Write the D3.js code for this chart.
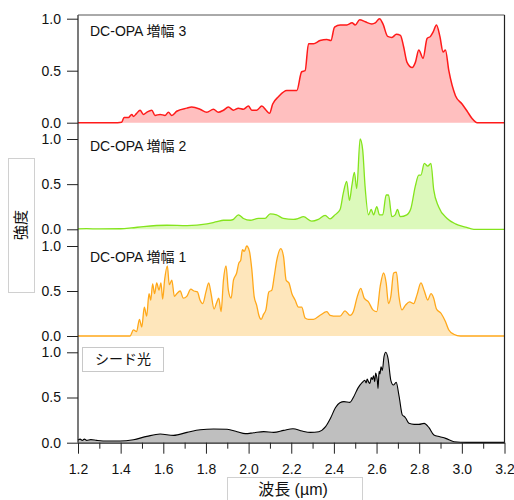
<!DOCTYPE html>
<html>
<head>
<meta charset="utf-8">
<script src="https://cdn.jsdelivr.net/npm/d3@7"></script>
<style>
  body { margin: 0; background: #fff; }
  svg text { font-family: "Liberation Sans", Arial, "Noto Sans CJK JP", sans-serif; fill: #111; }
</style>
</head>
<body>
<div id="chart"></div>
<script>
// spectra: [wavelength µm, normalised intensity]
const amp3 = [[1.2,0],[1.366,0],[1.405,0.005],[1.416,0.05],[1.436,0.05],[1.452,0.08],[1.46,0.06],[1.475,0.09],[1.491,0.12],[1.507,0.08],[1.522,0.1],[1.546,0.12],[1.561,0.07],[1.585,0.08],[1.608,0.07],[1.624,0.1],[1.64,0.07],[1.663,0.11],[1.71,0.14],[1.733,0.15],[1.772,0.13],[1.804,0.1],[1.835,0.13],[1.858,0.1],[1.882,0.12],[1.905,0.15],[1.929,0.12],[1.952,0.14],[1.976,0.13],[1.999,0.16],[2.015,0.12],[2.038,0.12],[2.062,0.16],[2.082,0.12],[2.098,0.09],[2.113,0.18],[2.14,0.25],[2.179,0.31],[2.226,0.31],[2.249,0.49],[2.265,0.5],[2.281,0.76],[2.304,0.76],[2.335,0.79],[2.367,0.8],[2.386,0.79],[2.403,0.92],[2.43,0.94],[2.461,0.94],[2.485,0.96],[2.5,0.94],[2.521,0.99],[2.547,0.97],[2.578,0.95],[2.594,0.96],[2.614,1.0],[2.63,0.95],[2.652,0.83],[2.672,0.82],[2.693,0.85],[2.712,0.84],[2.727,0.73],[2.743,0.58],[2.767,0.53],[2.782,0.58],[2.798,0.7],[2.818,0.62],[2.837,0.81],[2.853,0.83],[2.865,0.87],[2.881,0.94],[2.897,0.83],[2.912,0.68],[2.923,0.7],[2.939,0.5],[2.97,0.26],[3.001,0.18],[3.025,0.11],[3.048,0.04],[3.072,0],[3.2,0]];

const amp2 = [[1.2,0.005],[1.24,0.007],[1.3,0.004],[1.4,0.006],[1.45,0.015],[1.507,0.03],[1.617,0.045],[1.711,0.04],[1.805,0.06],[1.852,0.085],[1.882,0.1],[1.914,0.1],[1.929,0.11],[1.952,0.16],[1.976,0.12],[2.007,0.1],[2.046,0.12],[2.077,0.12],[2.101,0.17],[2.131,0.16],[2.163,0.12],[2.21,0.11],[2.233,0.12],[2.257,0.14],[2.296,0.09],[2.327,0.11],[2.359,0.155],[2.382,0.115],[2.405,0.16],[2.429,0.22],[2.444,0.4],[2.46,0.53],[2.473,0.32],[2.484,0.48],[2.496,0.63],[2.507,0.45],[2.523,1.0],[2.535,0.88],[2.546,0.48],[2.562,0.16],[2.575,0.22],[2.586,0.16],[2.601,0.25],[2.614,0.16],[2.629,0.16],[2.645,0.38],[2.656,0.38],[2.672,0.14],[2.687,0.16],[2.698,0.22],[2.711,0.14],[2.742,0.16],[2.761,0.23],[2.782,0.48],[2.798,0.6],[2.808,0.6],[2.824,0.73],[2.84,0.7],[2.855,0.73],[2.868,0.44],[2.891,0.25],[2.931,0.12],[2.97,0.06],[3.017,0.025],[3.056,0],[3.2,0]];

const amp1 = [[1.2,0],[1.444,0],[1.46,0.067],[1.475,0.05],[1.488,0.185],[1.499,0.1],[1.511,0.32],[1.522,0.22],[1.533,0.47],[1.541,0.4],[1.55,0.58],[1.559,0.47],[1.569,0.59],[1.58,0.51],[1.589,0.59],[1.597,0.41],[1.606,0.62],[1.619,0.78],[1.628,0.57],[1.64,0.62],[1.652,0.44],[1.663,0.47],[1.679,0.5],[1.694,0.42],[1.71,0.44],[1.729,0.52],[1.744,0.5],[1.76,0.49],[1.772,0.4],[1.785,0.36],[1.8,0.49],[1.813,0.59],[1.824,0.47],[1.838,0.3],[1.85,0.37],[1.86,0.42],[1.871,0.27],[1.882,0.62],[1.894,0.78],[1.905,0.51],[1.918,0.42],[1.929,0.62],[1.944,0.7],[1.954,0.81],[1.963,0.84],[1.971,0.96],[1.98,0.94],[1.991,1.0],[2.004,0.94],[2.015,0.74],[2.026,0.44],[2.038,0.34],[2.048,0.23],[2.059,0.185],[2.07,0.24],[2.081,0.29],[2.095,0.49],[2.109,0.51],[2.12,0.66],[2.132,0.84],[2.151,0.97],[2.164,0.88],[2.176,0.62],[2.189,0.59],[2.203,0.47],[2.218,0.4],[2.234,0.32],[2.249,0.32],[2.265,0.2],[2.281,0.185],[2.304,0.185],[2.335,0.23],[2.367,0.27],[2.382,0.23],[2.413,0.22],[2.429,0.22],[2.452,0.28],[2.476,0.23],[2.491,0.27],[2.51,0.44],[2.526,0.53],[2.542,0.42],[2.562,0.38],[2.583,0.29],[2.601,0.27],[2.617,0.55],[2.633,0.7],[2.645,0.59],[2.656,0.36],[2.667,0.44],[2.68,0.7],[2.693,0.71],[2.705,0.44],[2.719,0.29],[2.735,0.34],[2.755,0.38],[2.774,0.36],[2.79,0.46],[2.808,0.59],[2.824,0.5],[2.84,0.4],[2.855,0.47],[2.868,0.42],[2.881,0.3],[2.903,0.25],[2.923,0.16],[2.939,0.067],[2.962,0.02],[2.994,0],[3.2,0]];

const seed = [[1.2,0.03],[1.21,0.04],[1.22,0.025],[1.23,0.04],[1.241,0.026],[1.26,0.034],[1.288,0.026],[1.335,0.018],[1.397,0.018],[1.46,0.033],[1.523,0.07],[1.585,0.096],[1.648,0.081],[1.711,0.114],[1.773,0.144],[1.836,0.151],[1.899,0.148],[1.946,0.122],[1.985,0.1],[2.024,0.11],[2.071,0.122],[2.118,0.114],[2.164,0.136],[2.208,0.155],[2.251,0.129],[2.29,0.114],[2.329,0.122],[2.361,0.177],[2.384,0.27],[2.407,0.387],[2.428,0.443],[2.447,0.454],[2.475,0.446],[2.493,0.509],[2.512,0.601],[2.533,0.667],[2.545,0.69],[2.551,0.66],[2.556,0.704],[2.563,0.67],[2.569,0.656],[2.575,0.72],[2.58,0.7],[2.586,0.74],[2.591,0.675],[2.596,0.77],[2.6,0.74],[2.604,0.68],[2.607,0.601],[2.612,0.79],[2.616,0.76],[2.621,0.84],[2.627,0.8],[2.635,0.952],[2.643,1.0],[2.654,0.93],[2.667,0.69],[2.679,0.638],[2.692,0.667],[2.706,0.509],[2.721,0.306],[2.73,0.29],[2.737,0.27],[2.752,0.214],[2.776,0.203],[2.799,0.203],[2.823,0.214],[2.846,0.166],[2.869,0.085],[2.897,0.066],[2.924,0.048],[2.963,0.011],[3.025,0.004],[3.2,0.004]];

const panelNames = ['DC-OPA 増幅 3', 'DC-OPA 増幅 2', 'DC-OPA 増幅 1', 'シード光'];
const panelSeries = [amp3, amp2, amp1, seed];
const lineColors = ['#ff1a1a', '#84e41c', '#ffa81a', '#000000'];
const fillColors = ['#ffbfbf', '#dcf9bb', '#fee6bb', '#bfbfbf'];
const lineWidths = [1.5, 1.3, 1.3, 1.1];
const yTicks = [0, 0.5, 1.0];
const xTicks = [1.2, 1.4, 1.6, 1.8, 2.0, 2.2, 2.4, 2.6, 2.8, 3.0, 3.2];
const xMinorTicks = [1.3, 1.5, 1.7, 1.9, 2.1, 2.3, 2.5, 2.7, 2.9, 3.1];

// pixel layout (bottom / top of each stacked y axis, label baseline)
const layout = [
  {y0: 122.7, y1: 18.7, labelY: 35.7},
  {y0: 229.3, y1: 139, labelY: 151},
  {y0: 336, y1: 246, labelY: 261.5},
  {y0: 442.7, y1: 352.3, labelY: 363.5}
];

const W = 514, H = 500;
const plotL = 78, plotR = 504.5, plotT = 15, plotB = 442.7;

const svg = d3.select('#chart').append('svg')
  .attr('width', W).attr('height', H);

const x = d3.scaleLinear().domain([1.2, 3.2]).range([plotL, plotR]);

panelSeries.forEach(function(data, i) {
  const L = layout[i];
  const y = d3.scaleLinear().domain([0, 1]).range([L.y0, L.y1]);
  const g = svg.append('g').attr('class', 'panel');

  const area = d3.area()
    .x(d => x(d[0])).y0(y(0)).y1(d => y(d[1]))
    .curve(d3.curveMonotoneX);
  const line = d3.line()
    .x(d => x(d[0])).y(d => y(d[1]))
    .curve(d3.curveMonotoneX);

  g.append('path').datum(data)
    .attr('d', area)
    .attr('fill', fillColors[i]);
  g.append('path').datum(data)
    .attr('d', line)
    .attr('fill', 'none')
    .attr('stroke', lineColors[i])
    .attr('stroke-width', lineWidths[i])
    .attr('stroke-linejoin', 'round');

  // y axis ticks for this panel
  const ax = svg.append('g')
    .attr('transform', `translate(${plotL},0)`)
    .call(d3.axisLeft(y).tickValues(yTicks).tickFormat(d3.format('.1f')).tickSize(11).tickSizeOuter(0).tickPadding(6));
  ax.select('.domain').remove();
  ax.selectAll('line').attr('stroke', '#222');
  ax.selectAll('text').style('font-size', '14px').attr('fill', '#111');

  // panel label
  if (i < 3) {
    svg.append('text')
      .attr('x', 90).attr('y', L.labelY)
      .style('font-size', '14px')
      .text(panelNames[i]);
  } else {
    svg.append('rect')
      .attr('x', 82.5).attr('y', 347.5).attr('width', 81).attr('height', 24)
      .attr('fill', '#fff').attr('stroke', '#c8c8c8');
    svg.append('text')
      .attr('x', 123).attr('y', 364)
      .attr('text-anchor', 'middle')
      .style('font-size', '14px')
      .text(panelNames[i]);
  }
});

// frame: left axis line, top and right edges
svg.append('line').attr('x1', plotL).attr('x2', plotL).attr('y1', plotT).attr('y2', plotB)
  .attr('stroke', '#222').attr('stroke-width', 1.2);
svg.append('line').attr('x1', plotL).attr('x2', plotR).attr('y1', plotT).attr('y2', plotT)
  .attr('stroke', '#555').attr('stroke-width', 1);
svg.append('line').attr('x1', plotR).attr('x2', plotR).attr('y1', plotT).attr('y2', plotB)
  .attr('stroke', '#222').attr('stroke-width', 1.2);

// bottom axis
const xMinor = svg.append('g').attr('transform', `translate(0,${plotB})`)
  .call(d3.axisBottom(x).tickValues(xMinorTicks).tickFormat('').tickSize(6).tickSizeOuter(0));
xMinor.select('.domain').remove();
xMinor.selectAll('line').attr('stroke', '#222');

const xAx = svg.append('g').attr('transform', `translate(0,${plotB})`)
  .call(d3.axisBottom(x).tickValues(xTicks).tickFormat(d3.format('.1f')).tickSize(11).tickSizeOuter(0).tickPadding(10));
xAx.select('.domain').attr('stroke', '#222').attr('stroke-width', 1.2);
xAx.selectAll('line').attr('stroke', '#222');
xAx.selectAll('text').style('font-size', '14px').attr('fill', '#111');

// axis titles in boxes
svg.append('rect').attr('x', 8.5).attr('y', 158.5).attr('width', 26).attr('height', 134)
  .attr('fill', '#fff').attr('stroke', '#d0d0d0');
svg.append('text')
  .attr('transform', 'translate(26,225) rotate(-90)')
  .attr('text-anchor', 'middle')
  .style('font-size', '15px')
  .text('強度');

svg.append('rect').attr('x', 227.5).attr('y', 477.5).attr('width', 135).attr('height', 30)
  .attr('fill', '#fff').attr('stroke', '#d0d0d0');
svg.append('text')
  .attr('x', 293).attr('y', 494.5)
  .attr('text-anchor', 'middle')
  .style('font-size', '16px')
  .text('波長 (µm)');
</script>
</body>
</html>
